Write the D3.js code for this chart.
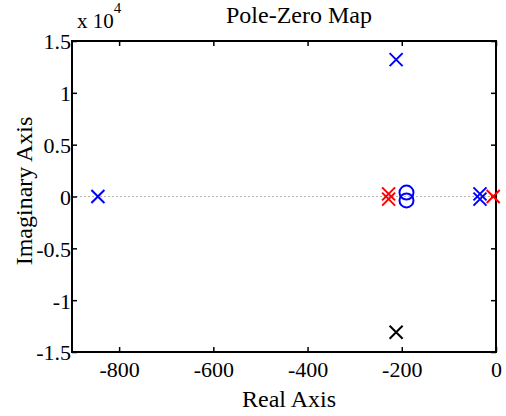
<!DOCTYPE html>
<html>
<head>
<meta charset="utf-8">
<script src="https://cdn.jsdelivr.net/npm/d3@7"></script>
<style>
  body { margin: 0; background: #fff; }
  text { font-family: "Liberation Serif", "Times New Roman", serif; fill: #000; }
</style>
</head>
<body>
<div id="chart"></div>
<script>
// pole / zero locations (real, imaginary)
const bluePoles = [[-845, 0], [-212, 13200], [-34, 250], [-34, -250]];
const blueZeros = [[-190, 380], [-190, -380]];
const redPoles = [[-228, 250], [-228, -250], [-6, 0]];
const blackPoles = [[-212, -13100]];
const xTicks = [-800, -600, -400, -200, 0];
const yTicks = [-15000, -10000, -5000, 0, 5000, 10000, 15000];

const W = 506, H = 416;
const margin = { top: 41, right: 10, bottom: 64, left: 72 };
const width = W - margin.left - margin.right;
const height = H - margin.top - margin.bottom;

const svg = d3.select("#chart").append("svg")
    .attr("width", W)
    .attr("height", H);

const g = svg.append("g")
    .attr("transform", `translate(${margin.left}, ${margin.top})`);

const x = d3.scaleLinear().domain([-900, 0]).range([0, width]);
const y = d3.scaleLinear().domain([-15000, 15000]).range([height, 0]);

// dotted zero line
g.append("line")
    .attr("x1", 0).attr("x2", width)
    .attr("y1", y(0)).attr("y2", y(0))
    .attr("stroke", "#b4b4b4")
    .attr("stroke-width", 1)
    .attr("stroke-dasharray", "2,2");

// axes (ticks pointing inward, box on all sides)
g.append("g")
    .attr("transform", `translate(0, ${height})`)
    .call(d3.axisBottom(x).tickValues(xTicks).tickFormat(d => String(d)).tickSizeInner(-5).tickSizeOuter(0))
    .call(a => a.select(".domain").remove())
    .call(a => a.selectAll("text").style("font-size", "22px").attr("y", 25).attr("dy", 0));

g.append("g")
    .call(d3.axisLeft(y).tickValues(yTicks).tickFormat(d => String(d / 10000)).tickSizeInner(-5).tickSizeOuter(0))
    .call(a => a.select(".domain").remove())
    .call(a => a.selectAll("text").style("font-size", "22px").attr("x", -1).attr("dy", "0.36em"));

g.append("g")
    .call(d3.axisTop(x).tickValues(xTicks).tickSizeInner(-5).tickSizeOuter(0).tickFormat(""))
    .call(a => a.select(".domain").remove());

g.append("g")
    .attr("transform", `translate(${width}, 0)`)
    .call(d3.axisRight(y).tickValues(yTicks).tickSizeInner(-5).tickSizeOuter(0).tickFormat(""))
    .call(a => a.select(".domain").remove());

g.selectAll(".tick line").attr("stroke", "#000").attr("stroke-width", 1.5);

g.append("rect")
    .attr("width", width).attr("height", height)
    .attr("fill", "none")
    .attr("stroke", "#000")
    .attr("stroke-width", 2);

// markers
function crosses(data, color) {
    const s = 6.5;
    g.selectAll(null)
        .data(data)
        .enter().append("path")
        .attr("d", d => {
            const cx = x(d[0]), cy = y(d[1]);
            return `M${cx - s},${cy - s}L${cx + s},${cy + s}M${cx - s},${cy + s}L${cx + s},${cy - s}`;
        })
        .attr("stroke", color)
        .attr("stroke-width", 2)
        .attr("fill", "none");
}

crosses(bluePoles, "#0000ff");
crosses(redPoles, "#ff0000");
crosses(blackPoles, "#000000");

g.selectAll(null)
    .data(blueZeros)
    .enter().append("circle")
    .attr("cx", d => x(d[0]))
    .attr("cy", d => y(d[1]))
    .attr("r", 7)
    .attr("fill", "none")
    .attr("stroke", "#0000ff")
    .attr("stroke-width", 2);

// labels
svg.append("text")
    .attr("x", 299).attr("y", 23)
    .attr("text-anchor", "middle")
    .style("font-size", "24px")
    .text("Pole-Zero Map");

const mult = svg.append("text")
    .attr("x", 77).attr("y", 28)
    .style("font-size", "21px");
mult.append("tspan").text("x 10");
mult.append("tspan").attr("dy", -15).style("font-size", "15px").text("4");

svg.append("text")
    .attr("x", 289).attr("y", 407)
    .attr("text-anchor", "middle")
    .style("font-size", "24px")
    .text("Real Axis");

svg.append("text")
    .attr("transform", `translate(32, 191) rotate(-90)`)
    .attr("text-anchor", "middle")
    .style("font-size", "24px")
    .text("Imaginary Axis");
</script>
</body>
</html>
